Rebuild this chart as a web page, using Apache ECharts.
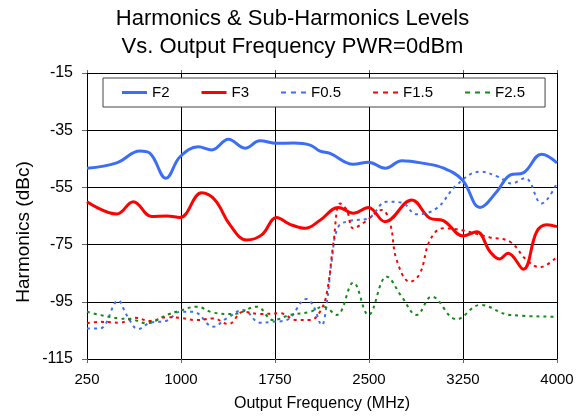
<!DOCTYPE html>
<html>
<head>
<meta charset="utf-8">
<script src="https://cdn.jsdelivr.net/npm/echarts@6/dist/echarts.min.js"></script>
<style>
  html, body { margin: 0; padding: 0; background: #fff; }
  #chart { width: 585px; height: 418px; }
</style>
</head>
<body>
<div id="chart"></div>
<script>
// Axis ticks
const freqTicks = [250, 1000, 1750, 2500, 3250, 4000];
const levelTicks = [-115, -95, -75, -55, -35, -15];

// F2 (second harmonic)
const f2Freq  = [250, 487, 673, 753, 880, 992, 1138, 1245, 1378, 1511, 1630, 1763, 1900, 2030, 2109, 2189, 2375, 2495, 2630, 2763, 2936, 3096, 3245, 3386, 3519, 3625, 3731, 3877, 4000];
const f2Level = [-48.3, -46.4, -42.3, -43.1, -51.8, -44.3, -40.8, -41.9, -38.2, -41.3, -38.7, -39.6, -39.5, -40.2, -42.3, -43.1, -46.9, -46.2, -48.3, -45.7, -46.6, -48.3, -52.4, -62.0, -56.5, -50.7, -49.9, -43.4, -46.4];

// F3 (third harmonic)
const f3Freq  = [250, 487, 620, 766, 886, 992, 1165, 1271, 1391, 1524, 1644, 1763, 1870, 1990, 2109, 2256, 2375, 2495, 2628, 2841, 2987, 3093, 3253, 3360, 3466, 3540, 3610, 3731, 3838, 3918, 4000];
const f3Level = [-60.0, -64.3, -60.0, -65.2, -65.0, -65.5, -56.9, -59.4, -68.1, -73.4, -71.6, -65.5, -67.9, -69.3, -66.5, -62.0, -64.0, -62.0, -67.0, -59.4, -65.8, -66.6, -72.0, -70.5, -77.5, -80.0, -78.0, -83.6, -70.5, -68.1, -68.7];

// F0.5 (sub-harmonic)
const f05Freq  = [250, 353, 500, 566, 659, 753, 886, 992, 1098, 1258, 1364, 1497, 1630, 1723, 1843, 2002, 2056, 2123, 2163, 2203, 2256, 2349, 2495, 2641, 2761, 2880, 3040, 3199, 3386, 3532, 3638, 3745, 3877, 4000];
const f05Level = [-104.3, -104.3, -94.6, -99.6, -104.5, -102.3, -101.6, -98.5, -98.5, -103.7, -100.8, -97.9, -102.3, -102.0, -101.4, -94.0, -96.5, -103.1, -95.5, -80.4, -68.7, -66.7, -65.8, -60.0, -60.3, -64.4, -62.3, -54.2, -49.5, -51.3, -53.6, -51.8, -60.6, -53.4];

// F1.5
const f15Freq  = [250, 353, 513, 633, 753, 886, 992, 1125, 1258, 1378, 1497, 1630, 1790, 1923, 2030, 2109, 2163, 2216, 2269, 2322, 2375, 2469, 2602, 2668, 2721, 2827, 2907, 2987, 3093, 3253, 3466, 3625, 3758, 3864, 4000];
const f15Level = [-102.5, -102.0, -102.3, -100.6, -101.7, -100.4, -100.6, -101.4, -100.8, -102.8, -98.5, -99.3, -99.0, -101.4, -101.4, -98.5, -92.0, -74.5, -60.6, -62.9, -69.3, -67.0, -62.9, -67.6, -80.4, -88.0, -85.0, -73.4, -69.3, -70.1, -72.5, -74.0, -80.4, -82.9, -79.2];

// F2.5
const f25Freq  = [250, 353, 500, 606, 726, 886, 992, 1125, 1258, 1418, 1604, 1737, 1870, 2030, 2136, 2242, 2375, 2495, 2641, 2761, 2880, 3000, 3199, 3386, 3625, 4000];
const f25Level = [-98.5, -99.6, -100.8, -101.1, -102.5, -99.6, -98.1, -96.7, -98.8, -99.3, -96.7, -101.4, -99.6, -98.5, -96.7, -99.6, -88.3, -99.6, -86.2, -93.2, -99.6, -93.2, -101.1, -96.1, -99.6, -100.2];

const FONT = '"Liberation Sans", Arial, Helvetica, sans-serif';

// Legend swatches: a solid bar and a three-dash bar
const SOLID_ICON = 'path://M0,0h25v3h-25z';
const DASH_ICON = 'path://M0,0h5v2h-5z M10,0h5v2h-5z M20,0h5v2h-5z';

function pairs(xs, ys) {
  return xs.map((x, i) => [x, ys[i]]);
}

const seriesDefs = [
  { name: 'F2',   x: f2Freq,  y: f2Level,  color: '#3b6ef5', width: 3, type: 'solid', icon: SOLID_ICON },
  { name: 'F3',   x: f3Freq,  y: f3Level,  color: '#ff0000', width: 3, type: 'solid', icon: SOLID_ICON },
  { name: 'F0.5', x: f05Freq, y: f05Level, color: '#3b6ef5', width: 2, type: [3, 4], icon: DASH_ICON },
  { name: 'F1.5', x: f15Freq, y: f15Level, color: '#ff0000', width: 2, type: [3, 4], icon: DASH_ICON },
  { name: 'F2.5', x: f25Freq, y: f25Level, color: '#138a13', width: 2, type: [3, 4], icon: DASH_ICON }
];

const chart = echarts.init(document.getElementById('chart'), null, { renderer: 'canvas' });

const xMin = freqTicks[0], xMax = freqTicks[freqTicks.length - 1];
const xStep = freqTicks[1] - freqTicks[0];
const yMin = levelTicks[0], yMax = levelTicks[levelTicks.length - 1];
const yStep = levelTicks[1] - levelTicks[0];

const plain = v => String(v);

chart.setOption({
  animation: false,
  backgroundColor: '#ffffff',
  textStyle: { fontFamily: FONT },
  title: {
    text: 'Harmonics & Sub-Harmonics Levels\nVs. Output Frequency PWR=0dBm',
    left: 'center',
    top: 5,
    padding: [0, 0, 0, 49],
    textStyle: {
      fontFamily: FONT,
      fontSize: 22,
      fontWeight: 'normal',
      color: '#000',
      lineHeight: 28,
      align: 'center'
    }
  },
  legend: {
    left: 103,
    top: 78,
    padding: [7, 20, 7, 19],
    itemGap: 32,
    itemWidth: 25,
    itemHeight: 3,
    symbolKeepAspect: true,
    backgroundColor: '#ffffff',
    borderColor: '#444',
    borderWidth: 1,
    textStyle: { fontFamily: FONT, fontSize: 15, color: '#000' },
    data: seriesDefs.map(s => ({ name: s.name, icon: s.icon }))
  },
  graphic: [{
    type: 'text',
    x: 24,
    y: 232,
    rotation: Math.PI / 2,
    style: {
      text: 'Harmonics (dBc)',
      fontFamily: FONT,
      fontSize: 19,
      fill: '#000',
      align: 'center',
      verticalAlign: 'middle'
    }
  }],
  grid: { left: 87, right: 28, top: 73, bottom: 59, containLabel: false },
  xAxis: [
    {
      type: 'value',
      min: xMin, max: xMax, interval: xStep,
      name: 'Output Frequency (MHz)',
      nameLocation: 'middle',
      nameGap: 37,
      nameTextStyle: { fontFamily: FONT, fontSize: 16, color: '#000' },
      axisLine: { show: true, lineStyle: { color: '#000', width: 1 } },
      axisTick: { show: true, inside: false, length: 4, lineStyle: { color: '#666' } },
      axisLabel: { margin: 13, fontFamily: FONT, fontSize: 15, color: '#000', formatter: plain },
      splitLine: { show: true, lineStyle: { color: '#000', width: 1 } }
    },
    {
      type: 'value',
      position: 'top',
      min: xMin, max: xMax, interval: xStep,
      axisLine: { show: true, lineStyle: { color: '#000', width: 1 } },
      axisTick: { show: true, inside: false, length: 3, lineStyle: { color: '#666' } },
      axisLabel: { show: false },
      splitLine: { show: false }
    }
  ],
  yAxis: [
    {
      type: 'value',
      min: yMin, max: yMax, interval: yStep,
      axisLine: { show: true, lineStyle: { color: '#000', width: 1 } },
      axisTick: { show: true, inside: false, length: 5, lineStyle: { color: '#666' } },
      axisLabel: { margin: 14, fontFamily: FONT, fontSize: 16, color: '#000', formatter: plain },
      splitLine: { show: true, lineStyle: { color: '#000', width: 1 } }
    },
    {
      type: 'value',
      position: 'right',
      min: yMin, max: yMax, interval: yStep,
      axisLine: { show: true, lineStyle: { color: '#000', width: 1 } },
      axisTick: { show: false },
      axisLabel: { show: false },
      splitLine: { show: false }
    }
  ],
  series: seriesDefs.map(s => ({
    name: s.name,
    type: 'line',
    xAxisIndex: 0,
    yAxisIndex: 0,
    data: pairs(s.x, s.y),
    smooth: 0.4,
    symbol: 'none',
    showSymbol: false,
    color: s.color,
    lineStyle: { color: s.color, width: s.width, type: s.type },
    emphasis: { disabled: true }
  }))
});
</script>
</body>
</html>
